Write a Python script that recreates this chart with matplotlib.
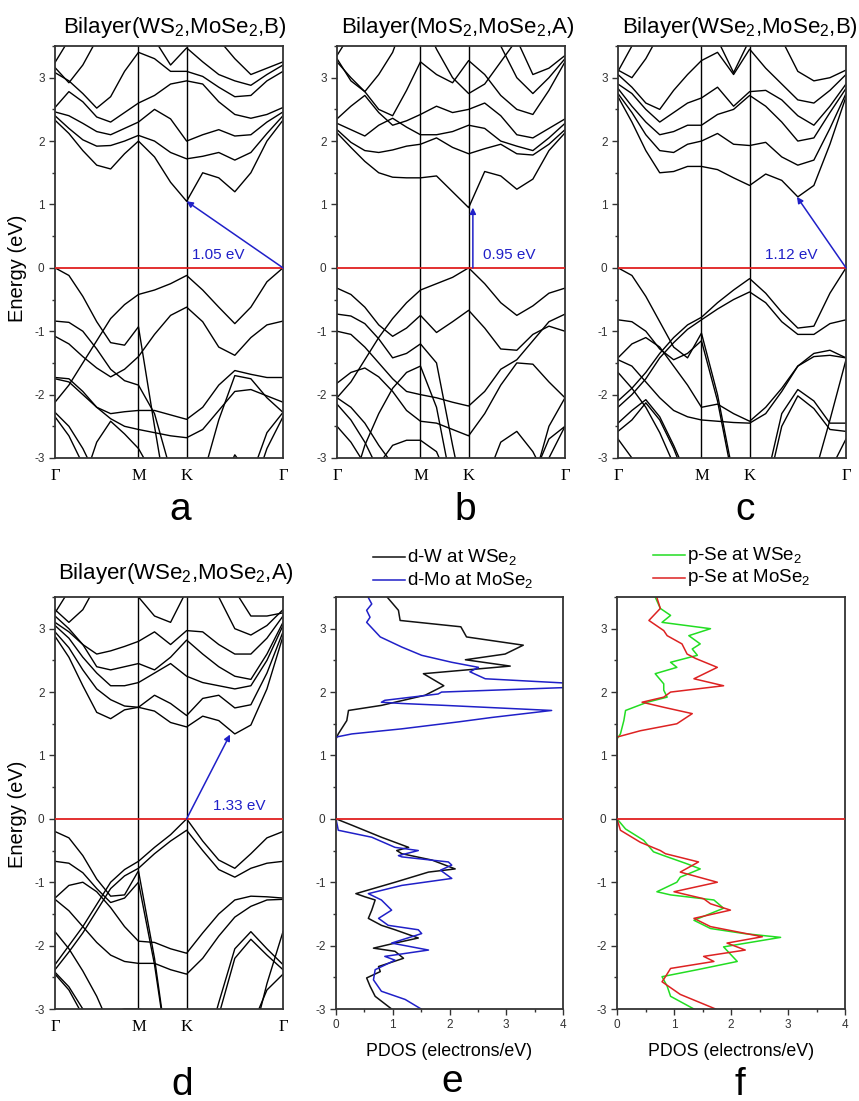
import numpy as np
import matplotlib
matplotlib.use('Agg')
import matplotlib.pyplot as plt
from matplotlib.ticker import MultipleLocator

plt.rcParams['font.family'] = ['Liberation Sans', 'DejaVu Sans']
plt.rcParams['mathtext.fontset'] = 'custom'
plt.rcParams['mathtext.rm'] = 'Liberation Sans'
plt.rcParams['mathtext.it'] = 'Liberation Sans:italic'
plt.rcParams['axes.unicode_minus'] = False

# ---- band structure data, path G-M-K-G (6/3/6 steps) ----
k_nodes = [0.0, 0.5774, 0.9107, 1.5774]
k_labels = ['Γ', 'M', 'K', 'Γ']
k = np.concatenate([np.linspace(0, 0.5774, 7),
                    np.linspace(0.5774, 0.9107, 4)[1:],
                    np.linspace(0.9107, 1.5774, 7)[1:]])

a_bands = [
    [2.33, 2.12, 1.85, 1.62, 1.56, 1.80, 2.00, 1.75, 1.35, 1.05, 1.50, 1.42, 1.20, 1.50, 2.00, 2.33],
    [2.40, 2.20, 2.02, 1.92, 1.93, 2.00, 2.09, 2.00, 1.82, 1.72, 1.76, 1.82, 1.70, 1.82, 2.12, 2.40],
    [2.46, 2.40, 2.28, 2.15, 2.10, 2.20, 2.30, 2.50, 2.35, 2.00, 2.10, 2.18, 2.08, 2.10, 2.30, 2.46],
    [2.53, 2.78, 2.62, 2.38, 2.30, 2.45, 2.60, 2.72, 2.90, 2.95, 2.90, 2.62, 2.42, 2.36, 2.42, 2.53],
    [3.08, 2.95, 2.75, 2.52, 2.70, 3.10, 3.40, 3.30, 3.10, 3.10, 3.02, 2.85, 2.70, 2.72, 2.95, 3.10],
    [3.16, 2.92, 3.20, 3.60, 4.00, 4.00, 4.00, 3.60, 3.20, 3.47, 3.25, 3.05, 2.95, 2.88, 3.05, 3.20],
    [3.24, 3.60, 4.00, 4.00, 4.00, 4.00, 4.00, 4.00, 4.00, 4.00, 4.00, 3.60, 3.30, 3.05, 3.15, 3.25],
    [-2.12, -1.85, -1.50, -1.15, -0.80, -0.58, -0.42, -0.35, -0.25, -0.12, -0.35, -0.62, -0.88, -0.62, -0.22, 0.00],
    [0.00, -0.12, -0.45, -0.85, -1.18, -1.22, -0.93, -2.50, -4.00, -4.00, -4.00, -4.00, -4.00, -4.00, -4.00, -4.00],
    [-1.08, -1.20, -1.40, -1.58, -1.72, -1.60, -1.40, -1.05, -0.75, -0.62, -0.85, -1.25, -1.38, -1.10, -0.90, -0.84],
    [-0.84, -0.86, -1.00, -1.28, -1.60, -1.78, -1.85, -2.30, -3.20, -4.00, -4.00, -4.00, -4.00, -4.00, -4.00, -4.00],
    [-1.73, -1.75, -1.95, -2.20, -2.30, -2.27, -2.25, -2.25, -2.32, -2.39, -2.20, -1.85, -1.62, -1.68, -1.73, -1.73],
    [-1.75, -1.80, -2.00, -2.20, -2.38, -2.50, -2.55, -2.60, -2.65, -2.68, -2.55, -2.25, -1.95, -1.92, -2.02, -2.12],
    [-2.28, -2.50, -2.85, -3.30, -4.00, -4.00, -4.00, -4.00, -4.00, -4.00, -4.00, -4.00, -4.00, -3.30, -2.60, -2.28],
    [-2.35, -2.65, -3.10, -4.00, -4.00, -4.00, -4.00, -4.00, -4.00, -4.00, -4.00, -4.00, -4.00, -3.60, -2.85, -2.35],
    [-4.00, -4.00, -3.40, -2.75, -2.42, -2.62, -2.85, -3.30, -4.00, -4.00, -3.30, -2.40, -1.70, -1.75, -2.05, -2.28],
    [-4.00, -4.00, -4.00, -4.00, -4.00, -4.00, -4.00, -4.00, -4.00, -4.00, -4.00, -3.50, -2.95, -3.30, -4.00, -4.00],
]

b_bands = [
    [2.13, 1.90, 1.68, 1.50, 1.43, 1.42, 1.42, 1.45, 1.20, 0.95, 1.52, 1.45, 1.24, 1.40, 1.85, 2.13],
    [2.18, 1.98, 1.85, 1.82, 1.86, 1.92, 1.95, 2.05, 1.90, 1.80, 1.88, 1.95, 1.80, 1.78, 1.95, 2.18],
    [2.28, 2.18, 2.08, 2.25, 2.36, 2.22, 2.10, 2.10, 2.15, 2.25, 2.20, 2.00, 1.92, 1.85, 2.05, 2.28],
    [2.35, 2.55, 2.72, 2.45, 2.25, 2.32, 2.42, 2.55, 2.45, 2.50, 2.60, 2.40, 2.10, 2.05, 2.20, 2.35],
    [3.25, 3.00, 2.78, 2.50, 2.40, 2.80, 3.25, 3.05, 2.92, 3.27, 3.05, 2.72, 2.50, 2.42, 2.80, 3.25],
    [3.30, 2.95, 2.78, 3.05, 3.40, 4.00, 4.00, 4.00, 4.00, 4.00, 4.00, 3.50, 3.00, 2.75, 3.00, 3.30],
    [3.35, 3.70, 4.00, 4.00, 4.00, 4.00, 4.00, 3.45, 3.00, 2.75, 2.90, 3.25, 3.60, 3.05, 3.15, 3.35],
    [-2.05, -1.80, -1.45, -1.10, -0.80, -0.55, -0.35, -0.25, -0.15, 0.00, -0.25, -0.55, -0.75, -0.60, -0.40, -0.32],
    [-0.32, -0.42, -0.62, -0.90, -1.08, -0.95, -0.75, -1.02, -0.85, -0.67, -0.95, -1.28, -1.30, -1.05, -0.92, -1.00],
    [-0.73, -0.76, -0.88, -1.12, -1.42, -1.35, -1.20, -1.50, -2.80, -4.00, -4.00, -4.00, -4.00, -4.00, -4.00, -4.00],
    [-1.00, -1.05, -1.25, -1.50, -1.75, -1.95, -2.00, -2.05, -2.12, -2.18, -1.95, -1.60, -1.45, -1.15, -0.85, -0.73],
    [-1.82, -1.65, -1.58, -1.72, -1.95, -2.25, -2.42, -2.45, -2.55, -2.65, -2.30, -1.85, -1.50, -1.52, -1.80, -2.05],
    [-2.05, -2.20, -2.45, -2.80, -3.10, -4.00, -4.00, -4.00, -4.00, -4.00, -4.00, -4.00, -4.00, -3.30, -2.70, -2.50],
    [-4.00, -3.50, -2.80, -2.30, -1.90, -1.65, -1.55, -2.20, -3.50, -4.00, -3.40, -2.75, -2.58, -2.90, -3.40, -4.00],
    [-2.15, -2.40, -2.75, -3.20, -4.00, -4.00, -4.00, -4.00, -4.00, -4.00, -4.00, -4.00, -4.00, -3.40, -2.50, -2.05],
    [-2.50, -2.75, -3.10, -4.00, -4.00, -4.00, -4.00, -4.00, -4.00, -4.00, -4.00, -4.00, -4.00, -4.00, -3.00, -2.50],
    [-4.00, -4.00, -3.60, -3.10, -2.80, -2.72, -2.72, -2.90, -3.50, -4.00, -4.00, -4.00, -4.00, -4.00, -4.00, -4.00],
]

c_bands = [
    [2.70, 2.30, 1.85, 1.50, 1.52, 1.60, 1.60, 1.55, 1.42, 1.30, 1.48, 1.38, 1.12, 1.30, 1.95, 2.70],
    [2.75, 2.45, 2.10, 1.85, 1.82, 1.95, 2.00, 2.12, 1.95, 1.93, 1.98, 1.75, 1.62, 1.70, 2.20, 2.75],
    [2.83, 2.55, 2.30, 2.10, 2.15, 2.25, 2.25, 2.42, 2.50, 2.72, 2.55, 2.30, 2.00, 2.05, 2.45, 2.83],
    [2.90, 2.75, 2.50, 2.30, 2.45, 2.60, 2.68, 2.85, 2.55, 2.78, 2.80, 2.65, 2.40, 2.25, 2.55, 2.90],
    [3.05, 2.85, 2.60, 2.50, 2.80, 3.05, 3.27, 3.40, 3.05, 3.45, 3.15, 2.90, 2.65, 2.60, 2.80, 3.05],
    [3.12, 3.00, 3.30, 3.70, 4.00, 4.00, 4.00, 3.60, 3.08, 3.60, 4.00, 3.60, 3.10, 2.95, 3.00, 3.12],
    [3.10, 3.50, 3.90, 4.00, 4.00, 4.00, 4.00, 4.00, 4.00, 4.00, 4.00, 4.00, 4.00, 4.00, 4.00, 4.00],
    [0.00, -0.12, -0.45, -0.85, -1.25, -1.42, -1.03, -2.00, -3.30, -4.00, -4.00, -4.00, -4.00, -4.00, -4.00, -4.00],
    [-0.82, -0.85, -1.00, -1.28, -1.45, -1.35, -1.15, -2.10, -3.40, -4.00, -4.00, -4.00, -4.00, -4.00, -4.00, -4.00],
    [-2.10, -1.90, -1.65, -1.35, -1.10, -0.90, -0.78, -0.55, -0.35, -0.17, -0.40, -0.70, -0.95, -0.92, -0.40, 0.00],
    [-2.20, -2.00, -1.75, -1.42, -1.18, -0.97, -0.82, -0.65, -0.50, -0.38, -0.55, -0.85, -1.05, -1.05, -0.88, -0.82],
    [-1.42, -1.20, -1.10, -1.25, -1.55, -1.85, -2.20, -2.15, -2.30, -2.42, -2.20, -1.90, -1.55, -1.40, -1.38, -1.42],
    [-1.45, -1.55, -1.80, -2.05, -2.25, -2.35, -2.40, -2.42, -2.44, -2.45, -2.30, -1.95, -1.55, -1.35, -1.30, -1.42],
    [-1.65, -1.90, -2.20, -2.60, -3.10, -4.00, -4.00, -4.00, -4.00, -4.00, -4.00, -4.00, -4.00, -3.30, -2.40, -1.45],
    [-2.45, -2.25, -2.08, -2.35, -2.80, -3.30, -4.00, -4.00, -4.00, -4.00, -3.40, -2.30, -1.92, -2.10, -2.45, -2.45],
    [-2.58, -2.40, -2.13, -2.40, -2.85, -3.40, -4.00, -4.00, -4.00, -4.00, -3.60, -2.50, -2.02, -2.22, -2.55, -2.58],
    [-2.70, -3.00, -3.50, -4.00, -4.00, -4.00, -4.00, -4.00, -4.00, -4.00, -4.00, -4.00, -4.00, -4.00, -3.20, -2.70],
]

d_bands = [
    [2.88, 2.55, 2.10, 1.68, 1.58, 1.72, 1.76, 1.70, 1.52, 1.45, 1.62, 1.55, 1.34, 1.48, 2.05, 2.88],
    [2.95, 2.70, 2.35, 2.05, 1.88, 1.78, 1.76, 1.95, 1.82, 1.63, 1.90, 1.95, 1.75, 1.80, 2.30, 2.95],
    [3.05, 2.85, 2.55, 2.30, 2.10, 2.10, 2.15, 2.30, 2.45, 2.25, 2.15, 2.10, 2.05, 2.10, 2.50, 3.05],
    [3.10, 2.95, 2.75, 2.40, 2.35, 2.40, 2.45, 2.35, 2.55, 2.82, 2.60, 2.40, 2.25, 2.20, 2.60, 3.10],
    [3.20, 3.00, 2.75, 2.60, 2.65, 2.72, 2.80, 2.95, 2.75, 2.97, 2.95, 2.75, 2.60, 2.60, 2.85, 3.20],
    [3.30, 3.10, 3.30, 3.70, 4.00, 3.80, 3.50, 3.20, 3.10, 3.60, 3.90, 3.50, 3.00, 2.90, 3.05, 3.30],
    [3.25, 3.60, 4.00, 4.00, 4.00, 4.00, 4.00, 4.00, 4.00, 4.00, 4.00, 4.00, 3.60, 3.20, 3.20, 3.25],
    [-2.30, -2.00, -1.70, -1.35, -1.00, -0.80, -0.67, -0.45, -0.25, 0.00, -0.35, -0.65, -0.78, -0.55, -0.30, -0.20],
    [-2.38, -2.10, -1.80, -1.45, -1.10, -0.90, -0.78, -0.55, -0.35, -0.18, -0.50, -0.80, -0.92, -0.78, -0.70, -0.67],
    [-0.20, -0.30, -0.58, -0.95, -1.22, -1.20, -0.82, -2.20, -4.00, -4.00, -4.00, -4.00, -4.00, -4.00, -4.00, -4.00],
    [-0.67, -0.70, -0.85, -1.10, -1.32, -1.25, -1.00, -2.30, -4.00, -4.00, -4.00, -4.00, -4.00, -4.00, -4.00, -4.00],
    [-1.25, -1.05, -1.00, -1.15, -1.40, -1.70, -1.93, -1.95, -2.05, -2.12, -1.80, -1.50, -1.28, -1.22, -1.23, -1.25],
    [-1.27, -1.45, -1.70, -1.95, -2.15, -2.25, -2.28, -2.28, -2.38, -2.45, -2.20, -1.85, -1.55, -1.38, -1.28, -1.27],
    [-1.78, -2.05, -2.40, -2.80, -3.30, -4.00, -4.00, -4.00, -4.00, -4.00, -3.80, -2.90, -2.05, -1.78, -2.05, -2.30],
    [-2.45, -2.70, -3.10, -4.00, -4.00, -4.00, -4.00, -4.00, -4.00, -4.00, -4.00, -3.10, -2.20, -1.90, -2.15, -2.38],
    [-4.00, -4.00, -3.60, -3.25, -3.05, -3.00, -3.00, -3.05, -3.50, -4.00, -4.00, -4.00, -4.00, -3.30, -2.70, -2.45],
    [-2.42, -2.65, -3.00, -3.50, -4.00, -4.00, -4.00, -4.00, -4.00, -4.00, -4.00, -4.00, -4.00, -3.60, -2.60, -1.78],
]

# gap arrows: (from k, from E, to k, to E), label, label position
gap_a = (1.5774, 0.0, 0.9107, 1.05, '1.05 eV', 0.948, 0.2)
gap_b = (0.94, 0.0, 0.94, 0.95, '0.95 eV', 1.01, 0.2)
gap_c = (1.5774, 0.0, 1.238, 1.12, '1.12 eV', 1.017, 0.2)
gap_d = (0.9107, 0.0, 1.211, 1.33, '1.33 eV', 1.093, 0.2)

# ---- PDOS data (energy, states) ----
dW_E = [3.5, 3.29, 3.13, 3.03, 2.87, 2.74, 2.6, 2.51, 2.41, 2.29, 2.1, 1.95, 1.84, 1.79, 1.71, 1.55,
        1.34, 1.26, 0.0, -0.1, -0.29, -0.45, -0.5, -0.55, -0.65, -0.79, -0.84, -1.0, -1.18, -1.23,
        -1.28, -1.44, -1.57, -1.68, -1.75, -1.88, -1.96, -2.04, -2.09, -2.2, -2.33, -2.41, -2.51,
        -2.64, -2.8, -3.0]
dW = [0.9, 1.1, 1.13, 2.2, 2.3, 3.3, 2.98, 2.28, 3.07, 1.54, 1.9, 1.57, 1.04, 0.8, 0.22, 0.19,
      0.04, 0.0, 0.0, 0.28, 0.8, 1.28, 1.07, 1.16, 1.69, 2.1, 1.63, 1.04, 0.35, 0.51,
      0.69, 0.63, 0.57, 0.8, 1.04, 1.45, 1.04, 0.66, 1.04, 1.19, 0.75, 0.78, 0.54,
      0.6, 0.69, 0.98]
dMo_E = [3.49, 3.39, 3.29, 3.18, 3.1, 2.87, 2.71, 2.58, 2.47, 2.39, 2.32, 2.21, 2.13, 2.08, 2.0,
         1.97, 1.87, 1.84, 1.82, 1.79, 1.71, 1.6, 1.53, 1.42, 1.34, 1.29, 0.0, -0.18, -0.29, -0.45,
         -0.5, -0.58, -0.6, -0.68, -0.73, -0.81, -0.94, -1.05, -1.18, -1.28, -1.44, -1.57, -1.68,
         -1.75, -1.81, -1.96, -2.07, -2.17, -2.23, -2.38, -2.54, -2.72, -2.85, -3.0]
dMo = [0.57, 0.63, 0.54, 0.6, 0.54, 0.78, 1.16, 1.51, 2.04, 2.51, 2.36, 2.63, 4.3, 4.3, 1.86,
       1.8, 0.86, 0.8, 1.16, 1.92, 3.8, 2.75, 2.16, 1.16, 0.28, 0.0, 0.0, 0.04, 0.63, 1.04,
       1.45, 1.1, 1.16, 1.98, 2.04, 1.84, 2.04, 1.16, 0.57, 0.8, 0.98, 0.75, 0.92,
       1.45, 1.51, 0.98, 1.63, 0.86, 1.04, 0.69, 0.66, 0.8, 1.22, 1.5]
pW_E = [3.5, 3.32, 3.21, 3.1, 3.0, 2.89, 2.76, 2.68, 2.58, 2.47, 2.39, 2.29, 2.13, 2.03, 1.92, 1.84,
        1.71, 1.55, 1.34, 1.26, 0.0, -0.16, -0.34, -0.52, -0.58, -0.71, -0.79, -0.92, -1.0, -1.15,
        -1.2, -1.28, -1.41, -1.6, -1.73, -1.81, -1.87, -2.02, -2.25, -2.38, -2.49, -2.64, -2.8, -3.0]
pW = [0.67, 0.76, 0.94, 0.79, 1.64, 1.26, 1.46, 1.32, 1.41, 0.94, 1.05, 0.67, 0.82, 0.82, 0.88, 0.53,
      0.15, 0.12, 0.06, 0.0, 0.0, 0.15, 0.47, 0.64, 0.82, 1.23, 1.46, 1.11, 1.05, 0.7,
      0.94, 1.7, 1.87, 1.35, 1.64, 2.23, 2.87, 1.87, 2.11, 1.41, 0.79, 0.88, 0.94, 1.35]
pMo_E = [3.49, 3.32, 3.13, 2.97, 2.89, 2.76, 2.6, 2.53, 2.39, 2.21, 2.1, 2.0, 1.92, 1.84, 1.76, 1.66,
         1.5, 1.39, 1.29, 0.0, -0.18, -0.37, -0.5, -0.55, -0.68, -0.84, -1.0, -1.15, -1.26, -1.34,
         -1.44, -1.57, -1.7, -1.86, -1.96, -2.07, -2.17, -2.25, -2.36, -2.49, -2.57, -2.77, -3.0]
pMo = [0.7, 0.76, 0.56, 0.82, 0.88, 1.14, 1.23, 1.38, 1.76, 1.35, 1.87, 0.94, 0.82, 0.44, 0.82, 1.32,
       1.05, 0.41, 0.0, 0.0, 0.06, 0.41, 0.76, 0.85, 1.43, 1.11, 1.76, 1.0, 1.52, 1.64,
       1.99, 1.35, 1.64, 2.55, 1.93, 2.25, 1.52, 1.7, 0.94, 0.85, 0.79, 1.11, 1.73]

RED = '#e02020'
BLUE = '#2020c8'
W, H = 859, 1101


def ax_at(x0, y0, x1, y1):
    return fig.add_axes([x0 / W, 1 - y1 / H, (x1 - x0) / W, (y1 - y0) / H])


def style(ax):
    for s in ax.spines.values():
        s.set_color('#333333')
        s.set_linewidth(1.3)
    ax.set_ylim(-3, 3.5)
    ax.yaxis.set_major_locator(MultipleLocator(1))
    ax.yaxis.set_minor_locator(MultipleLocator(0.5))
    ax.tick_params(axis='y', which='both', direction='out', left=True, right=False,
                   labelsize=8.5, colors='#333333', width=1)
    ax.tick_params(axis='y', which='major', length=4)
    ax.tick_params(axis='y', which='minor', length=2.5)
    ax.axhline(0, color=RED, lw=1.3, zorder=3)


def band_panel(ax, bands, gap):
    for b in bands:
        ax.plot(k, b, color='black', lw=1.0)
    for x in k_nodes[1:3]:
        ax.axvline(x, color='black', lw=1.0)
    style(ax)
    ax.set_xlim(0, k_nodes[-1])
    ax.set_xticks(k_nodes)
    ax.set_xticklabels(k_labels, fontfamily='Liberation Serif', fontsize=12)
    ax.tick_params(axis='x', length=0, pad=7)
    x0, y0, x1, y1, txt, tx, ty = gap
    ax.annotate('', xy=(x1, y1), xytext=(x0, y0),
                arrowprops=dict(arrowstyle='-|>', color=BLUE, lw=1.1,
                                mutation_scale=9, shrinkA=0, shrinkB=0), zorder=4)
    ax.text(tx, ty, txt, color=BLUE, fontsize=11, va='center', ha='left')


def pdos_panel(ax, curves, labels, legend_x, legend_y):
    for (e, v, c) in curves:
        ax.plot(v, e, color=c, lw=1.1)
    style(ax)
    ax.set_xlim(0, 4)
    ax.xaxis.set_major_locator(MultipleLocator(1))
    ax.xaxis.set_minor_locator(MultipleLocator(0.5))
    ax.tick_params(axis='x', which='both', direction='out', labelsize=8.5,
                   colors='#333333', width=1)
    ax.tick_params(axis='x', which='major', length=4)
    ax.tick_params(axis='x', which='minor', length=2.5)
    ax.set_xlabel('PDOS (electrons/eV)', fontsize=12.8, labelpad=8)
    for (e, v, c), lab, ly in zip(curves, labels, legend_y):
        fig.add_artist(plt.Line2D([legend_x / W, (legend_x + 32) / W], [1 - ly / H] * 2,
                                  color=c, lw=1.1))
        fig.text((legend_x + 34) / W, 1 - ly / H, lab, fontsize=13.5, va='center', ha='left')


fig = plt.figure(figsize=(8.59, 11.01), dpi=100)

ax_a = ax_at(55, 46, 283, 458)
ax_b = ax_at(337, 46, 565, 458)
ax_c = ax_at(618, 46, 846, 458)
ax_d = ax_at(55, 597, 283, 1009)
ax_e = ax_at(336, 597, 563, 1009)
ax_f = ax_at(617, 597, 845, 1009)

band_panel(ax_a, a_bands, gap_a)
band_panel(ax_b, b_bands, gap_b)
band_panel(ax_c, c_bands, gap_c)
band_panel(ax_d, d_bands, gap_d)

pdos_panel(ax_e, [(dW_E, dW, '#111111'), (dMo_E, dMo, BLUE)],
           ['d-W at WSe$_2$', 'd-Mo at MoSe$_2$'], 373, [557, 580])
pdos_panel(ax_f, [(pW_E, pW, '#22dd22'), (pMo_E, pMo, '#dd2222')],
           ['p-Se at WSe$_2$', 'p-Se at MoSe$_2$'], 653, [555, 578])

titles = [('Bilayer(WS$_2$,MoSe$_2$,B)', 175, 28), ('Bilayer(MoS$_2$,MoSe$_2$,A)', 458, 28),
          ('Bilayer(WSe$_2$,MoSe$_2$,B)', 740, 28), ('Bilayer(WSe$_2$,MoSe$_2$,A)', 176, 573)]
for t, x, y in titles:
    fig.text(x / W, 1 - y / H, t, fontsize=16, ha='center', va='center')

for lab, x, y in [('a', 180, 520), ('b', 465, 520), ('c', 745, 520),
                  ('d', 182, 1095), ('e', 452, 1092), ('f', 740, 1095)]:
    fig.text(x / W, 1 - y / H, lab, fontsize=28, ha='center', va='baseline')

for y in (268, 814):
    fig.text(18 / W, 1 - y / H, 'Energy (eV)', fontsize=14.5, rotation=90,
             ha='center', va='center')

fig.savefig('out.png', dpi=100)
